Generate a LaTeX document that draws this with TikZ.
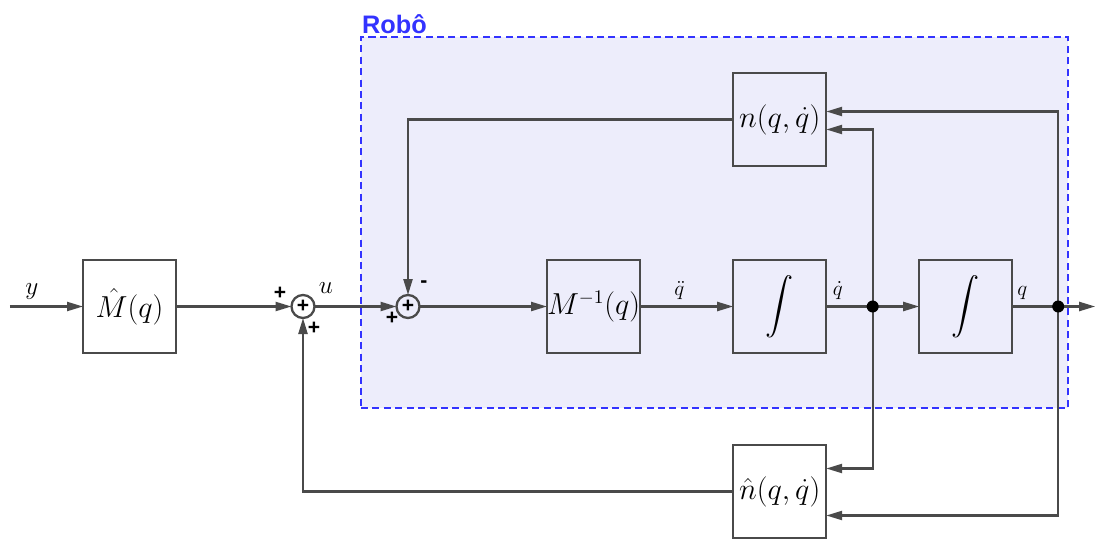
\documentclass[tikz,border=0pt]{standalone}
\usepackage{amsmath,amssymb}
\usepackage{fontspec}
\newfontfamily\robofont{Liberation Sans}
\usepackage{tikz}
\usetikzlibrary{positioning,arrows.meta,calc}
\definecolor{linegray}{HTML}{4A4A4A}
\definecolor{robotblue}{HTML}{3333FF}
\definecolor{robotfill}{HTML}{EDEDFB}

\begin{document}
\begin{tikzpicture}[
    block/.style={draw=linegray, line width=1.3pt, minimum size=1.86cm, inner sep=0pt, outer sep=0pt, font=\fontsize{16}{19}\selectfont},
    sum/.style={draw=linegray, circle, line width=1.3pt, minimum size=0.46cm, inner sep=0pt, outer sep=0pt, font=\robofont\bfseries\large},
    dot/.style={fill=black, circle, minimum size=0.24cm, inner sep=0pt},
    arrow/.style={-{Triangle[length=3.2mm, width=1.8mm]}, line width=1.3pt, draw=linegray},
    line/.style={line width=1.3pt, draw=linegray},
    sign/.style={font=\robofont\bfseries\large, inner sep=0pt},
    sig/.style={font=\Large},
    smallsig/.style={font=\large}
]
\useasboundingbox (0,0) rectangle (22,10.76);

% Robot frame
\node[draw=robotblue, fill=robotfill, line width=1.1pt, dash pattern=on 4pt off 2.5pt,
      minimum width=14.14cm, minimum height=7.42cm, inner sep=0pt] (robot) at (14.29,6.31) {};
\node[anchor=south west, inner sep=1pt, text=robotblue, font=\robofont\bfseries\Large] (robotlabel) at (robot.north west) {Robô};

% Forward path
\node[block] (mhat) at (2.59,4.63) {$\hat{M}(q)$};
\coordinate[left=1.46 of mhat] (in);
\node[sum, right=2.31 of mhat] (sum1) {+};
\node[sum, right=1.64 of sum1] (sum2) {+};
\node[block, right=2.55 of sum2] (minv) {$M^{-1}(q)$};
\node[block, right=1.86 of minv] (int1) {$\displaystyle\int$};
\node[block, right=1.86 of int1] (int2) {$\displaystyle\int$};
\coordinate (dot1) at ($(int1.east)!0.5!(int2.west)$);
\coordinate[right=0.92 of int2] (dot2);
\coordinate[right=0.74 of dot2] (out);

% Nonlinear terms
\node[block, above=1.88 of int1] (n) {$n(q,\dot{q})$};
\node[block, below=1.84 of int1] (nhat) {$\hat{n}(q,\dot{q})$};

% Signs
\node[sign] (s1a) at ($(sum1)+(-0.46,0.26)$) {+};
\node[sign] (s1b) at ($(sum1)+(0.22,-0.44)$) {+};
\node[sig] (ulabel) at ($(sum1)+(0.46,0.36)$) {$u$};
\node[sign] (s2a) at ($(sum2)+(0.32,0.44)$) {-};
\node[sign] (s2b) at ($(sum2)+(-0.32,-0.24)$) {+};

\draw[arrow] (in) -- node[above, pos=0.3, sig] {$y$} (mhat);
\draw[arrow] (mhat) -- (sum1);
\draw[arrow] (sum1) -- (sum2);
\draw[arrow] (sum2) -- (minv);
\draw[arrow] (minv) -- node[above, pos=0.42, smallsig] {$\ddot{q}$} (int1);
\draw[line] (int1) -- node[above, pos=0.25, smallsig] {$\dot{q}$} (dot1);
\draw[arrow] (dot1) -- (int2);
\draw[line] (int2) -- node[above, pos=0.22, smallsig] {$q$} (dot2);
\draw[arrow] (dot2) -- (out);

% Feedback
\draw[arrow] (n.west) -| (sum2.north);
\draw[arrow] (dot2) |- ([yshift=0.16cm]n.east);
\draw[arrow] (dot1) |- ([yshift=-0.2cm]n.east);
\draw[arrow] (dot1) |- ([yshift=0.46cm]nhat.east);
\draw[arrow] (dot2) |- ([yshift=-0.48cm]nhat.east);
\draw[arrow] (nhat.west) -| (sum1.south);

% Branch points
\node[dot] (d1) at (dot1) {};
\node[dot] (d2) at (dot2) {};
\end{tikzpicture}
\end{document}
